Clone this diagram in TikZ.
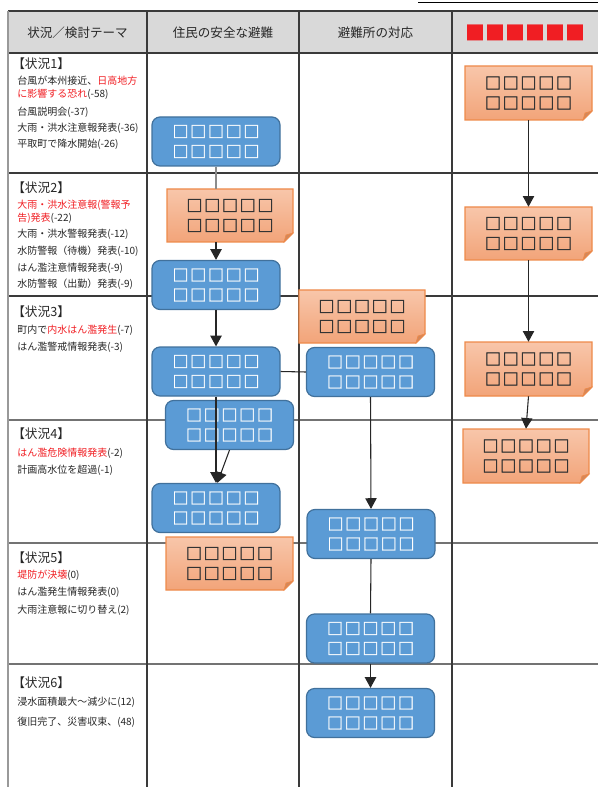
\documentclass[tikz,border=0pt]{standalone}
\usepackage{fontspec}
\setmainfont{Noto Sans CJK JP}
\newfontfamily\sqw[FakeBold=1.6]{Noto Sans CJK JP}
\newfontfamily\sqk[FakeBold=2.6]{Noto Sans CJK JP}
\usetikzlibrary{arrows.meta}
\definecolor{bfill}{HTML}{5B9BD5}
\definecolor{bline}{HTML}{41719C}
\definecolor{otop}{HTML}{F8C6AA}
\definecolor{obot}{HTML}{F2A479}
\definecolor{oline}{HTML}{EE8A4A}
\definecolor{ofold}{HTML}{D4875A}
\definecolor{gridc}{HTML}{3A3A3A}
\definecolor{hdr}{HTML}{D9D9D9}
\definecolor{txt}{HTML}{262626}
\definecolor{redtx}{HTML}{F01E23}
\newcommand\sqrow{□\kern1.3pt□\kern1.3pt□\kern1.3pt□\kern1.3pt□}
\tikzset{
  bbox/.style={rectangle, rounded corners=6pt, fill=bfill, draw=bline, line width=0.9pt,
    text=white, font=\sqw\fontsize{12}{15}\selectfont, align=center,
    minimum width=96pt, minimum height=36.75pt, inner sep=0pt},
  otext/.style={rectangle, inner sep=0pt, align=center, text=black!80,
    font=\sqk\fontsize{12}{15}\selectfont},
  lt/.style={anchor=west, inner sep=0pt, font=\fontsize{7.5}{9}\selectfont, text=txt},
  lh/.style={anchor=west, inner sep=0pt, font=\fontsize{9.5}{11}\selectfont, text=txt},
  hd/.style={inner sep=0pt, font=\fontsize{9.4}{11}\selectfont, text=txt},
  gridline/.style={draw=gridc, line width=0.8pt},
  conn/.style={draw=black!85, line width=0.8pt},
  arr/.style={conn, -{Triangle[width=8.5pt,length=8pt]}},
}
\newcommand\obox[6]{%
  \shade[top color=otop,bottom color=obot,draw=oline,line width=0.9pt]
    (#2,#3)--(#4,#3)--(#4,#5-9)--(#4-9,#5)--(#2,#5)--cycle;
  \fill[ofold,draw=oline,line width=0.5pt] (#4,#5-9)--(#4-9,#5)--(#4-7,#5-7)--cycle;
  \node[otext,minimum width={(#4-#2)*0.75pt},minimum height={(#5-#3)*0.75pt}]
    (#1) at ({(#2+#4)/2},{(#3+#5)/2}) {#6};
}
\begin{document}
\begin{tikzpicture}[x=0.75pt,y=-0.75pt]
\useasboundingbox (0,0) rectangle (598,787);
% top-right rule
\draw[line width=0.8pt] (418,2.5) -- (598,2.5);
% table
\fill[hdr] (8,11) rectangle (598,53);
\foreach \yy in {11,53,173,296}
  \draw[gridline] (8,\yy) -- (598,\yy);
\foreach \yy in {420,543,664}
  \draw[gridline, draw=gray!90!black] (8,\yy) -- (598,\yy);
\foreach \xx in {147,299,452}
  \draw[gridline] (\xx,11) -- (\xx,787);
\draw[draw=gray!80, line width=1.4pt] (8,11) -- (8,787);
% header
\node[hd] (h1) at (77.5,33) {状況／検討テーマ};
\node[hd] (h2) at (223,33) {住民の安全な避難};
\node[hd] (h3) at (375.5,33) {避難所の対応};
\node[inner sep=0pt, text=redtx, font=\fontsize{15}{15}\selectfont] (h4) at (525.5,33) {■■■■■■};
% left column
\node[lh] (s1h) at (12,64) {【状況1】};
\node[lt] (s1a) at (17,81) {台風が本州接近、\textcolor{redtx}{日高地方}};
\node[lt] (s1b) at (17,94) {\textcolor{redtx}{に影響する恐れ}(-58)};
\node[lt] (s1c) at (17,112) {台風説明会(-37)};
\node[lt] (s1d) at (17,128) {大雨・洪水注意報発表(-36)};
\node[lt] (s1e) at (17,144) {平取町で降水開始(-26)};
\node[lh] (s2h) at (12,188) {【状況2】};
\node[lt] (s2a) at (17,205) {\textcolor{redtx}{大雨・洪水注意報(警報予}};
\node[lt] (s2b) at (17,218) {\textcolor{redtx}{告)発表}(-22)};
\node[lt] (s2c) at (17,234) {大雨・洪水警報発表(-12)};
\node[lt] (s2d) at (17,251) {水防警報（待機）発表(-10)};
\node[lt] (s2e) at (17,268) {はん濫注意情報発表(-9)};
\node[lt] (s2f) at (17,284) {水防警報（出勤）発表(-9)};
\node[lh] (s3h) at (12,312) {【状況3】};
\node[lt] (s3a) at (17,330) {町内で\textcolor{redtx}{内水はん濫発生}(-7)};
\node[lt] (s3b) at (17,347) {はん濫警戒情報発表(-3)};
\node[lh] (s4h) at (12,434) {【状況4】};
\node[lt] (s4a) at (17,453) {\textcolor{redtx}{はん濫危険情報発表}(-2)};
\node[lt] (s4b) at (17,470) {計画高水位を超過(-1)};
\node[lh] (s5h) at (12,558) {【状況5】};
\node[lt] (s5a) at (17,575) {\textcolor{redtx}{堤防が決壊}(0)};
\node[lt] (s5b) at (17,592) {はん濫発生情報発表(0)};
\node[lt] (s5c) at (17,610) {大雨注意報に切り替え(2)};
\node[lh] (s6h) at (12,683) {【状況6】};
\node[lt] (s6a) at (17,702) {浸水面積最大～減少に(12)};
\node[lt] (s6b) at (17,722) {復旧完了、災害収束、(48)};
% blue boxes
\node[bbox] (B1) at (216,141.5) {\sqrow\\\sqrow};
\node[bbox] (B2) at (216,285) {\sqrow\\\sqrow};
\node[bbox] (B3) at (216,371.5) {\sqrow\\\sqrow};
\node[bbox] (B4) at (229.5,425) {\sqrow\\\sqrow};
\node[bbox] (B5) at (216,508) {\sqrow\\\sqrow};
\node[bbox] (B6) at (370.5,372) {\sqrow\\\sqrow};
\node[bbox] (B7) at (371,534) {\sqrow\\\sqrow};
\node[bbox] (B8) at (370.5,638.5) {\sqrow\\\sqrow};
\node[bbox] (B9) at (370.5,713) {\sqrow\\\sqrow};
% orange notes
\obox{O1}{167}{189}{293}{242}{\sqrow\\\sqrow}
\obox{O2}{166}{537}{293}{590}{\sqrow\\\sqrow}
\obox{O3}{299}{290}{425}{343}{\sqrow\\\sqrow}
\obox{O4}{465}{66}{592}{120}{\sqrow\\\sqrow}
\obox{O5}{465}{207}{592}{260}{\sqrow\\\sqrow}
\obox{O6}{465}{342}{592}{396}{\sqrow\\\sqrow}
\obox{O7}{463}{429}{589}{483}{\sqrow\\\sqrow}
% connectors
\draw[draw=gray!90, line width=0.8pt] (B1.south) -- (B1.south |- O1.north);
\draw[arr] (B2.north |- O1.south) -- (B2.north);
\draw[arr] (B2.south) -- (B3.north);
\draw[arr] (B3.south) -- (B5.north);
\draw[arr] (B4.south) -- ([xshift=1pt]B5.north);
\draw[conn] (B3.east) -- (B6.west);
\draw[arr] (B6.south) -- (B7.north);
\draw[conn] (B7.south) -- (B8.north);
\draw[arr] (B8.south) -- (B9.north);
\draw[arr] (O4.south) -- (O5.north);
\draw[arr] (O5.south) -- (O6.north);
\draw[arr] (O6.south) -- (O7.north);
\end{tikzpicture}
\end{document}
